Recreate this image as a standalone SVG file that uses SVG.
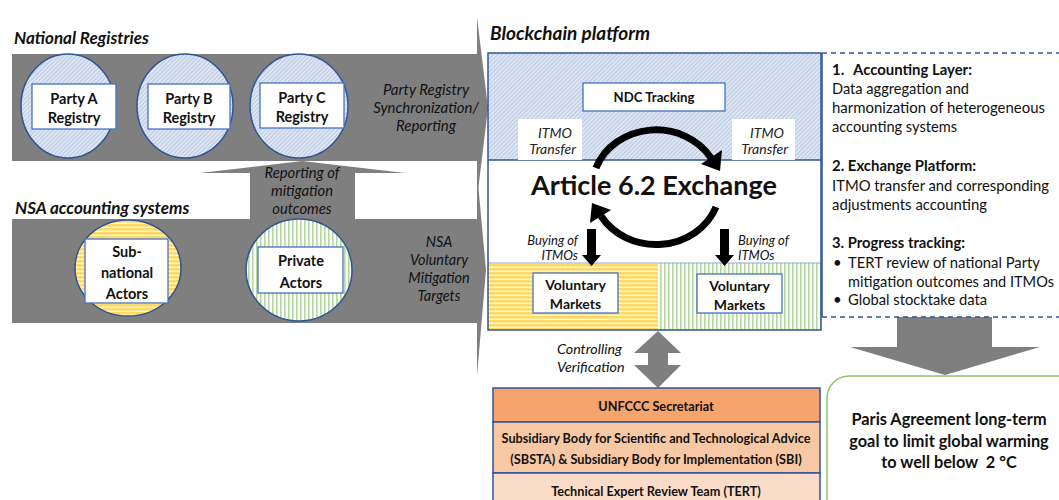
<svg xmlns="http://www.w3.org/2000/svg" width="1059" height="500" viewBox="0 0 1059 500">
<defs>
<pattern id="blueHatch" width="3" height="3" patternUnits="userSpaceOnUse" patternTransform="rotate(45)"><rect width="3" height="3" fill="#E3E9F5"/><rect width="1.2" height="3" fill="#B9C9E4"/></pattern>
<pattern id="yellowStripes" width="4" height="4" patternUnits="userSpaceOnUse"><rect width="4" height="4" fill="#FFF6D8"/><rect width="4" height="2.6" fill="#FFD966"/></pattern>
<pattern id="greenStripes" width="4" height="4" patternUnits="userSpaceOnUse"><rect width="4" height="4" fill="#FFFFFF"/><rect width="1.6" height="4" fill="#B5D7A0"/></pattern>
<style>
text{font-family:Lato,"Open Sans","Liberation Sans",sans-serif;fill:#111;}
.b{font-weight:bold;}
.i{font-style:italic;fill:#222;}
.bi{font-weight:bold;font-style:italic;}
.c{text-anchor:middle;}
.r{text-anchor:end;}
.node{font-weight:bold;font-size:14.5px;text-anchor:middle;}
.circ{stroke:#2F5597;stroke-width:1.5;}
.lbl{fill:#fff;stroke:#4472C4;stroke-width:1.3;}
.gray{fill:#7F7F7F;}
.lab{font-style:italic;font-size:13px;fill:#262626;}
.side{font-size:15px;}
.org{stroke:#2F5597;stroke-width:1.5;}
.ins{font-weight:bold;font-size:12.7px;text-anchor:middle;}
</style>
</defs>

<!-- background flows -->
<g id="flows">
<polygon class="gray" points="12,54 477,54 477,17 488,108 477,199 477,161 12,161"/>
<polygon class="gray" points="12,219 477,219 477,172 486,270 477,376 477,323 12,323"/>
<polygon class="gray" points="250,222 250,173 200,173 302,161 405,173 355,173 355,222"/>
<polygon class="gray" points="658,331 681,353 668,353 668,365 681,365 658,388 634,365 648,365 648,353 634,353"/>
<polygon class="gray" points="897,317 992,317 992,347 1040,347 945,375 850,347 897,347"/>
</g>

<text class="bi" x="14" y="44" font-size="17">National Registries</text>
<text class="bi" x="15" y="214" font-size="17">NSA accounting systems</text>
<text class="bi" x="490" y="40" font-size="19">Blockchain platform</text>

<g class="lab c">
<text x="426" y="95" font-size="15">Party Registry</text>
<text x="426" y="113" font-size="15">Synchronization/</text>
<text x="426" y="131" font-size="15">Reporting</text>
<text x="302" y="178" font-size="14.8">Reporting of</text>
<text x="302" y="196" font-size="14.8">mitigation</text>
<text x="302" y="214" font-size="14.8">outcomes</text>
<text x="439" y="247" font-size="14.4">NSA</text>
<text x="439" y="265" font-size="14.4">Voluntary</text>
<text x="439" y="283" font-size="14.4">Mitigation</text>
<text x="439" y="301" font-size="14.4">Targets</text>
</g>

<g id="partyA"><ellipse class="circ" cx="68" cy="106" rx="47" ry="52" fill="url(#blueHatch)"/><rect class="lbl" x="32" y="84" width="84" height="45"/><text class="node" x="74" y="104">Party A</text><text class="node" x="74" y="123">Registry</text></g>
<g id="partyB"><ellipse class="circ" cx="185" cy="106" rx="48" ry="52" fill="url(#blueHatch)"/><rect class="lbl" x="148" y="84" width="82" height="45"/><text class="node" x="189" y="104">Party B</text><text class="node" x="189" y="123">Registry</text></g>
<g id="partyC"><ellipse class="circ" cx="299" cy="106" rx="49" ry="52" fill="url(#blueHatch)"/><rect class="lbl" x="260" y="83" width="84" height="45"/><text class="node" x="302" y="103">Party C</text><text class="node" x="302" y="122">Registry</text></g>

<g id="subnational"><ellipse class="circ" cx="128" cy="268" rx="53" ry="48" fill="url(#yellowStripes)"/><rect class="lbl" x="85" y="239" width="83" height="64"/><text class="node" x="127" y="257">Sub-</text><text class="node" x="127" y="278">national</text><text class="node" x="127" y="299">Actors</text></g>
<g id="private"><ellipse class="circ" cx="299" cy="270" rx="53" ry="51" fill="url(#greenStripes)"/><rect class="lbl" x="258" y="247" width="85" height="46"/><text class="node" x="301" y="266">Private</text><text class="node" x="301" y="288">Actors</text></g>

<!-- blockchain platform -->
<g id="platform">
<rect x="488" y="53" width="333" height="107" fill="url(#blueHatch)"/>
<rect x="488" y="160" width="333" height="103" fill="#fff"/>
<rect x="488" y="263" width="170" height="67" fill="url(#yellowStripes)"/>
<rect x="658" y="263" width="163" height="67" fill="url(#greenStripes)"/>
<line x1="488" y1="160" x2="821" y2="160" stroke="#2F5597" stroke-width="1.3"/>
<line x1="488" y1="263" x2="821" y2="263" stroke="#8FAADC" stroke-width="1"/>
<rect x="488" y="53" width="333" height="277" fill="none" stroke="#2F5597" stroke-width="1.5"/>
<rect x="518" y="119" width="64" height="41" fill="#fff"/>
<rect x="732" y="119" width="63" height="41" fill="#fff"/>
<text class="i r" x="572" y="138" font-size="14">ITMO</text>
<text class="i r" x="576" y="154" font-size="14">Transfer</text>
<text class="i r" x="784" y="138" font-size="14">ITMO</text>
<text class="i r" x="788" y="154" font-size="14">Transfer</text>
</g>

<g id="ndc"><rect class="lbl" x="583" y="83" width="142" height="28" stroke="#2F5597"/><text class="b c" x="654" y="102" font-size="13.2">NDC Tracking</text></g>

<g id="exchange"><text class="b c" x="654" y="195" font-size="27">Article 6.2 Exchange</text></g>

<g id="connectors">
<path d="M596 168 A64 58 0 0 1 711 158" fill="none" stroke="#000" stroke-width="7"/>
<polygon points="701,164 722,150 720,171" fill="#000"/>
<path d="M716 207 A64 58 0 0 1 601 216" fill="none" stroke="#000" stroke-width="7"/>
<polygon points="611,210 590,223 592,203" fill="#000"/>
<polygon points="587,229 596,229 596,255 601,255 591.5,266 582,255 587,255" fill="#000"/>
<polygon points="720,229 729,229 729,255 734,255 724.5,266 715,255 720,255" fill="#000"/>
</g>

<g class="lab">
<text class="r" x="578" y="245">Buying of</text>
<text class="r" x="578" y="260">ITMOs</text>
<text x="738" y="245">Buying of</text>
<text x="738" y="260">ITMOs</text>
<text x="557" y="354" font-size="14.3">Controlling</text>
<text x="557" y="372" font-size="14.3">Verification</text>
</g>

<g id="vmLeft"><rect class="lbl" x="533" y="273" width="85" height="40" stroke="#2F5597"/><text class="b c" x="575.5" y="290" font-size="14">Voluntary</text><text class="b c" x="575.5" y="309" font-size="14">Markets</text></g>
<g id="vmRight"><rect class="lbl" x="697" y="274" width="85" height="39" stroke="#2F5597"/><text class="b c" x="739.5" y="291" font-size="14">Voluntary</text><text class="b c" x="739.5" y="310" font-size="14">Markets</text></g>

<!-- side explanation -->
<g id="sidebox">
<line x1="822" y1="53" x2="822" y2="317" stroke="#2F5597" stroke-width="1.5"/>
<line x1="822" y1="53" x2="1059" y2="53" stroke="#2F5597" stroke-width="1.3" stroke-dasharray="5,4"/>
<line x1="822" y1="317" x2="1059" y2="317" stroke="#2F5597" stroke-width="1.3" stroke-dasharray="5,4"/>
<text class="side b" x="832" y="75">1.</text>
<text class="side b" x="853" y="75" textLength="119" lengthAdjust="spacingAndGlyphs">Accounting Layer:</text>
<text class="side" x="832" y="94" textLength="137" lengthAdjust="spacingAndGlyphs">Data aggregation and</text>
<text class="side" x="832" y="113" textLength="213" lengthAdjust="spacingAndGlyphs">harmonization of heterogeneous</text>
<text class="side" x="832" y="132" textLength="125" lengthAdjust="spacingAndGlyphs">accounting systems</text>
<text class="side b" x="832" y="171" textLength="144" lengthAdjust="spacingAndGlyphs">2. Exchange Platform:</text>
<text class="side" x="832" y="191" textLength="217" lengthAdjust="spacingAndGlyphs">ITMO transfer and corresponding</text>
<text class="side" x="832" y="210" textLength="155" lengthAdjust="spacingAndGlyphs">adjustments accounting</text>
<text class="side b" x="832" y="248" textLength="133" lengthAdjust="spacingAndGlyphs">3. Progress tracking:</text>
<text class="side" x="833" y="268">•</text>
<text class="side" x="848" y="268" textLength="192" lengthAdjust="spacingAndGlyphs">TERT review of national Party</text>
<text class="side" x="848" y="287" textLength="206" lengthAdjust="spacingAndGlyphs">mitigation outcomes and ITMOs</text>
<text class="side" x="833" y="305">•</text>
<text class="side" x="848" y="305" textLength="139" lengthAdjust="spacingAndGlyphs">Global stocktake data</text>
</g>

<!-- UNFCCC institutions -->
<g id="unfccc"><rect class="org" x="493" y="388" width="327" height="34" fill="#F4A46C"/><text class="ins" x="656" y="411">UNFCCC Secretariat</text></g>
<g id="sbsta"><rect class="org" x="493" y="422" width="327" height="51" fill="#F8C8A4"/><text class="ins" x="656" y="443">Subsidiary Body for Scientific and Technological Advice</text><text class="ins" x="656" y="464">(SBSTA) &amp; Subsidiary Body for Implementation (SBI)</text></g>
<g id="tert"><rect class="org" x="493" y="473" width="327" height="40" fill="#FBDCC8"/><text class="ins" x="656" y="496">Technical Expert Review Team (TERT)</text></g>

<g id="paris"><rect x="827" y="376" width="260" height="150" rx="22" fill="#fff" stroke="#8CC66A" stroke-width="1.5"/>
<text class="b c" x="949" y="425" font-size="16.3">Paris Agreement long-term</text>
<text class="b c" x="949" y="447" font-size="16.3">goal to limit global warming</text>
<text class="b c" x="949" y="468" font-size="16.3">to well below&#160; 2 °C</text></g>
</svg>
